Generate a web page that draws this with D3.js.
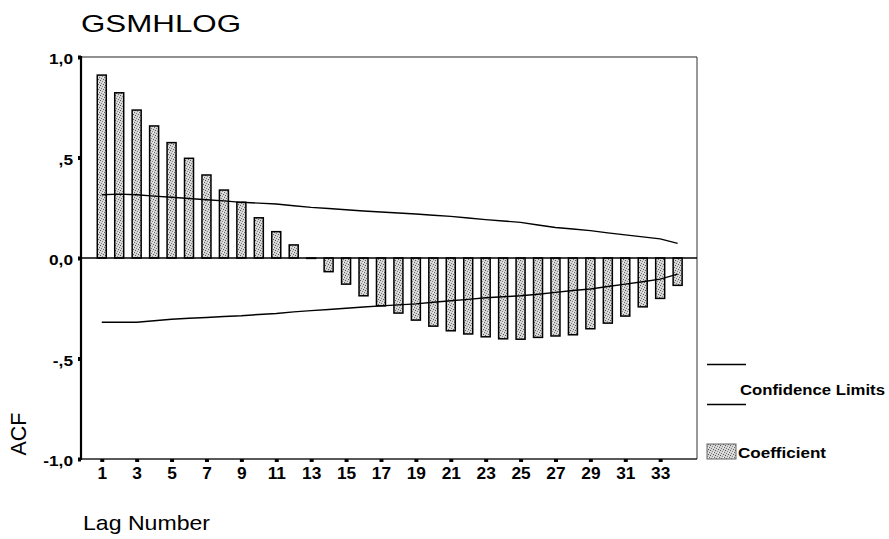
<!DOCTYPE html>
<html>
<head>
<meta charset="utf-8">
<script src="https://cdn.jsdelivr.net/npm/d3@7"></script>
<style>
  body { margin: 0; background: #fff; }
  text { font-family: Arial, "Liberation Sans", sans-serif; fill: #000; }
</style>
</head>
<body>
<svg id="chart"></svg>
<script>
// ACF of GSMHLOG, lags 1..34
var lags = [1, 2, 3, 4, 5, 6, 7, 8, 9, 10, 11, 12, 13, 14, 15, 16, 17,
            18, 19, 20, 21, 22, 23, 24, 25, 26, 27, 28, 29, 30, 31, 32, 33, 34];
var acf = [0.910, 0.822, 0.736, 0.657, 0.574, 0.496, 0.413, 0.338, 0.277, 0.200,
           0.131, 0.065, -0.002, -0.068, -0.130, -0.188, -0.238, -0.274, -0.309, -0.339,
           -0.362, -0.378, -0.392, -0.402, -0.404, -0.395, -0.388, -0.382, -0.352, -0.324,
           -0.289, -0.243, -0.201, -0.136];
var upperLimit = [0.315, 0.318, 0.315, 0.308, 0.302, 0.296, 0.290, 0.284, 0.277, 0.273,
                  0.269, 0.260, 0.252, 0.246, 0.240, 0.234, 0.229, 0.224, 0.219, 0.213,
                  0.207, 0.199, 0.191, 0.184, 0.177, 0.164, 0.152, 0.144, 0.136, 0.125,
                  0.115, 0.105, 0.095, 0.073];
var lowerLimit = [-0.320, -0.320, -0.320, -0.312, -0.305, -0.300, -0.296, -0.291, -0.287, -0.281,
                  -0.276, -0.268, -0.262, -0.256, -0.250, -0.244, -0.238, -0.233, -0.228, -0.220,
                  -0.213, -0.206, -0.198, -0.193, -0.188, -0.180, -0.171, -0.162, -0.154, -0.142,
                  -0.130, -0.118, -0.105, -0.080];
var xTickLags = [1, 3, 5, 7, 9, 11, 13, 15, 17, 19, 21, 23, 25, 27, 29, 31, 33];
var yTicks = [-1, -0.5, 0, 0.5, 1];
var yTickLabels = ["-1,0", "-,5", "0,0", ",5", "1,0"];
var legendLabels = ["Confidence Limits", "Coefficient"];

var width = 889, height = 539;
var svg = d3.select("#chart")
    .attr("width", width)
    .attr("height", height);

// plot frame (don't call it "top", that's window.top)
var plotLeft = 81, plotRight = 697, plotTop = 57, plotBottom = 459;

var x = d3.scaleLinear()
    .domain([-0.19, 35.11])
    .range([plotLeft, plotRight]);
var y = d3.scaleLinear()
    .domain([-1, 1])
    .range([plotBottom, plotTop]);

// stipple fill like the scanned spss bars
var defs = svg.append("defs");
var pat = defs.append("pattern")
    .attr("id", "stipple")
    .attr("patternUnits", "userSpaceOnUse")
    .attr("width", 5)
    .attr("height", 5);
pat.append("rect").attr("width", 5).attr("height", 5).attr("fill", "#d6d6d6");
[[0, 0, "#555"], [2, 1, "#8a8a8a"], [4, 2, "#666"], [1, 3, "#7a7a7a"], [3, 4, "#5c5c5c"], [3, 2, "#f0f0f0"]]
  .forEach(function(p) {
    pat.append("rect").attr("x", p[0]).attr("y", p[1])
      .attr("width", 1).attr("height", 1).attr("fill", p[2]);
  });

// stretch text horizontally (the reference is wide)
function stretch(sel, k) {
  sel.each(function() {
    var w = this.getComputedTextLength();
    d3.select(this)
      .attr("textLength", w * k)
      .attr("lengthAdjust", "spacingAndGlyphs");
  });
}

// frame lines
svg.append("line")
    .attr("x1", plotLeft).attr("x2", plotRight).attr("y1", plotTop).attr("y2", plotTop)
    .attr("stroke", "#222").attr("stroke-width", 1.2);
svg.append("line")
    .attr("x1", plotRight).attr("x2", plotRight).attr("y1", plotTop).attr("y2", plotBottom)
    .attr("stroke", "#333").attr("stroke-width", 1);
svg.append("line")
    .attr("x1", plotLeft).attr("x2", plotRight).attr("y1", plotBottom).attr("y2", plotBottom)
    .attr("stroke", "#222").attr("stroke-width", 1.3);

// bars
svg.append("g")
  .selectAll("rect")
  .data(lags)
  .enter()
  .append("rect")
    .attr("x", function(d) { return x(d) - 4.5; })
    .attr("y", function(d, i) { return y(Math.max(0, acf[i])); })
    .attr("width", 9)
    .attr("height", function(d, i) { return Math.abs(y(acf[i]) - y(0)); })
    .attr("fill", "url(#stipple)")
    .attr("stroke", "#000")
    .attr("stroke-width", 1.5);

// zero line
svg.append("line")
    .attr("x1", plotLeft).attr("x2", plotRight).attr("y1", y(0)).attr("y2", y(0))
    .attr("stroke", "#000").attr("stroke-width", 1.6);

// confidence limits
var line = d3.line()
    .x(function(d, i) { return x(lags[i]); })
    .y(function(d) { return y(d); });
[upperLimit, lowerLimit].forEach(function(lim) {
  svg.append("path")
      .datum(lim)
      .attr("d", line)
      .attr("fill", "none")
      .attr("stroke", "#000")
      .attr("stroke-width", 1.4);
});

// y axis
var yAxis = svg.append("g")
    .attr("transform", "translate(" + plotLeft + ",0)")
    .call(d3.axisLeft(y)
      .tickValues(yTicks)
      .tickSize(3)
      .tickPadding(5)
      .tickFormat(function(d, i) { return yTickLabels[i]; }));
yAxis.select(".domain").remove();
yAxis.selectAll(".tick line").attr("stroke", "#000").attr("stroke-width", 4);
yAxis.selectAll(".tick text")
    .attr("dy", "0.45em")
    .style("font-size", "15px")
    .style("font-weight", "bold")
    .call(stretch, 1.15);
svg.append("line")
    .attr("x1", plotLeft).attr("x2", plotLeft).attr("y1", plotTop - 1).attr("y2", plotBottom + 1)
    .attr("stroke", "#000").attr("stroke-width", 2.2);

// x axis
var xAxis = svg.append("g")
    .attr("transform", "translate(0," + plotBottom + ")")
    .call(d3.axisBottom(x)
      .tickValues(xTickLags)
      .tickSize(3)
      .tickPadding(6)
      .tickFormat(d3.format("d")));
xAxis.select(".domain").remove();
xAxis.selectAll(".tick line").attr("stroke", "#000").attr("stroke-width", 4);
xAxis.selectAll(".tick text")
    .style("font-size", "16px")
    .style("font-weight", "bold")
    .call(stretch, 1.08);

// titles
svg.append("text")
    .attr("x", 81).attr("y", 32)
    .style("font-size", "24px")
    .attr("textLength", 160).attr("lengthAdjust", "spacingAndGlyphs")
    .text("GSMHLOG");
svg.append("text")
    .attr("x", 83).attr("y", 530)
    .style("font-size", "21px")
    .attr("textLength", 127).attr("lengthAdjust", "spacingAndGlyphs")
    .text("Lag Number");
svg.append("text")
    .attr("transform", "translate(26,434) rotate(-90)")
    .attr("text-anchor", "middle")
    .style("font-size", "22px")
    .attr("textLength", 43).attr("lengthAdjust", "spacingAndGlyphs")
    .text("ACF");

// legend
var lg = svg.append("g").attr("class", "legend");
[364.5, 404.5].forEach(function(ly) {
  lg.append("line")
      .attr("x1", 707).attr("x2", 746).attr("y1", ly).attr("y2", ly)
      .attr("stroke", "#000").attr("stroke-width", 1.4);
});
lg.append("text")
    .attr("x", 740).attr("y", 395)
    .style("font-size", "14px")
    .style("font-weight", "bold")
    .attr("textLength", 145).attr("lengthAdjust", "spacingAndGlyphs")
    .text(legendLabels[0]);
lg.append("rect")
    .attr("x", 707).attr("y", 444)
    .attr("width", 29).attr("height", 15)
    .attr("fill", "url(#stipple)")
    .attr("stroke", "#666").attr("stroke-width", 1);
lg.append("text")
    .attr("x", 738).attr("y", 458)
    .style("font-size", "14px")
    .style("font-weight", "bold")
    .attr("textLength", 88).attr("lengthAdjust", "spacingAndGlyphs")
    .text(legendLabels[1]);
</script>
</body>
</html>
